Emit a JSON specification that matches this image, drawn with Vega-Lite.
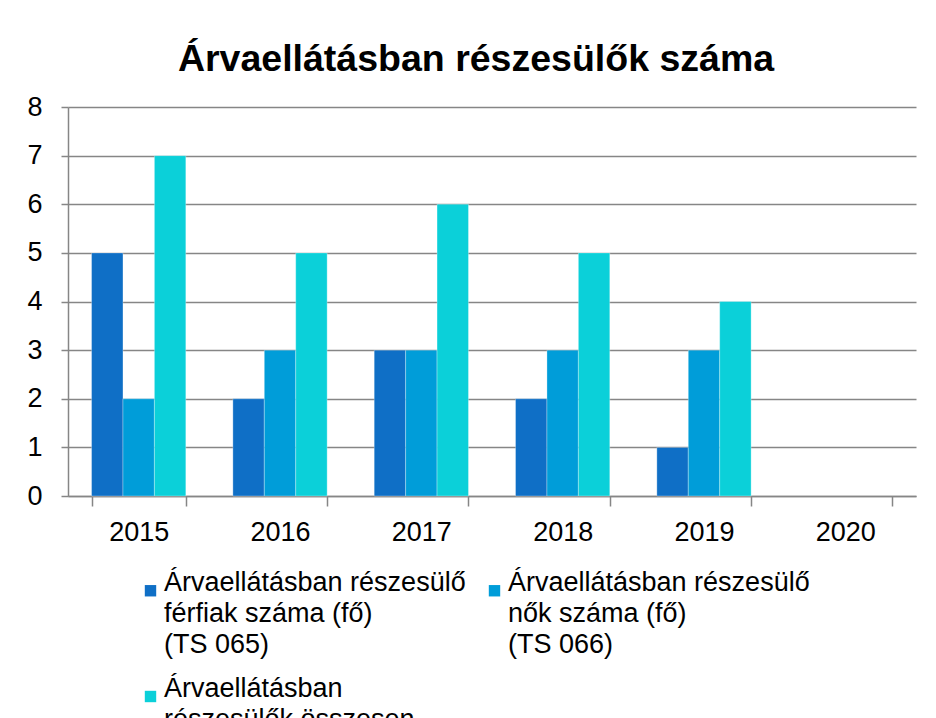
{
  "$schema": "https://vega.github.io/schema/vega-lite/v6.json",
  "width": 848,
  "height": 389,
  "padding": {"left": 26, "top": 40, "right": 21, "bottom": 40},
  "background": "white",
  "title": {
    "text": "Árvaellátásban részesülők száma",
    "font": "Liberation Sans",
    "fontSize": 37.5,
    "fontWeight": "bold",
    "color": "#000000",
    "anchor": "middle",
    "dx": -16,
    "offset": 15
  },
  "data": {
    "values": [
      {"year": "2015", "series": "ferfi", "value": 5},
      {"year": "2015", "series": "no", "value": 2},
      {"year": "2015", "series": "ossz", "value": 7},
      {"year": "2016", "series": "ferfi", "value": 2},
      {"year": "2016", "series": "no", "value": 3},
      {"year": "2016", "series": "ossz", "value": 5},
      {"year": "2017", "series": "ferfi", "value": 3},
      {"year": "2017", "series": "no", "value": 3},
      {"year": "2017", "series": "ossz", "value": 6},
      {"year": "2018", "series": "ferfi", "value": 2},
      {"year": "2018", "series": "no", "value": 3},
      {"year": "2018", "series": "ossz", "value": 5},
      {"year": "2019", "series": "ferfi", "value": 1},
      {"year": "2019", "series": "no", "value": 3},
      {"year": "2019", "series": "ossz", "value": 4}
    ]
  },
  "mark": {"type": "bar", "stroke": "#ffffff", "strokeWidth": 0.6, "strokeOpacity": 0.5},
  "encoding": {
    "x": {
      "field": "year",
      "type": "nominal",
      "scale": {"domain": ["2015", "2016", "2017", "2018", "2019", "2020"], "paddingInner": 0.333, "paddingOuter": 0.1667},
      "axis": {
        "title": null,
        "labelAngle": 0,
        "tickBand": "extent",
        "tickSize": 10,
        "tickColor": "#868686",
        "tickWidth": 1.5,
        "domainColor": "#868686",
        "domainWidth": 1.5,
        "labelFont": "Liberation Sans",
        "labelFontSize": 27,
        "labelColor": "#000000",
        "labelPadding": 13,
        "grid": false
      }
    },
    "xOffset": {
      "field": "series",
      "type": "nominal",
      "scale": {"domain": ["ferfi", "no", "ossz"], "paddingInner": 0, "paddingOuter": 0}
    },
    "y": {
      "field": "value",
      "type": "quantitative",
      "scale": {"domain": [0, 8], "nice": false},
      "axis": {
        "title": null,
        "values": [0, 1, 2, 3, 4, 5, 6, 7, 8],
        "tickSize": 7,
        "tickColor": "#868686",
        "tickWidth": 1.5,
        "gridColor": "#868686",
        "gridWidth": 1.5,
        "domainColor": "#868686",
        "domainWidth": 1.5,
        "labelFont": "Liberation Sans",
        "labelFontSize": 27,
        "labelColor": "#000000",
        "labelPadding": 19
      }
    },
    "color": {
      "field": "series",
      "type": "nominal",
      "scale": {"domain": ["ferfi", "no", "ossz"], "range": ["#0F6FC6", "#009DD9", "#0BD0D9"]},
      "legend": {
        "title": null,
        "orient": "none",
        "direction": "horizontal",
        "legendX": 69,
        "legendY": 470,
        "columns": 2,
        "columnPadding": 15,
        "rowPadding": 16,
        "symbolType": "square",
        "symbolSize": 130,
        "symbolStrokeWidth": 0,
        "labelFont": "Liberation Sans",
        "labelFontSize": 27,
        "labelColor": "#000000",
        "labelLimit": 500,
        "labelBaseline": "alphabetic",
        "labelOffset": 0,
        "labelExpr": "datum.label == 'ferfi' ? ['Árvaellátásban részesülő', 'férfiak száma (fő)', '(TS 065)'] : datum.label == 'no' ? ['Árvaellátásban részesülő', 'nők száma (fő)', '(TS 066)'] : ['Árvaellátásban', ' részesülők összesen', '(fő) (TS 067)']"
      }
    }
  },
  "config": {
    "view": {"stroke": null},
    "style": {"guide-label": {"lineHeight": 31}}
  }
}
